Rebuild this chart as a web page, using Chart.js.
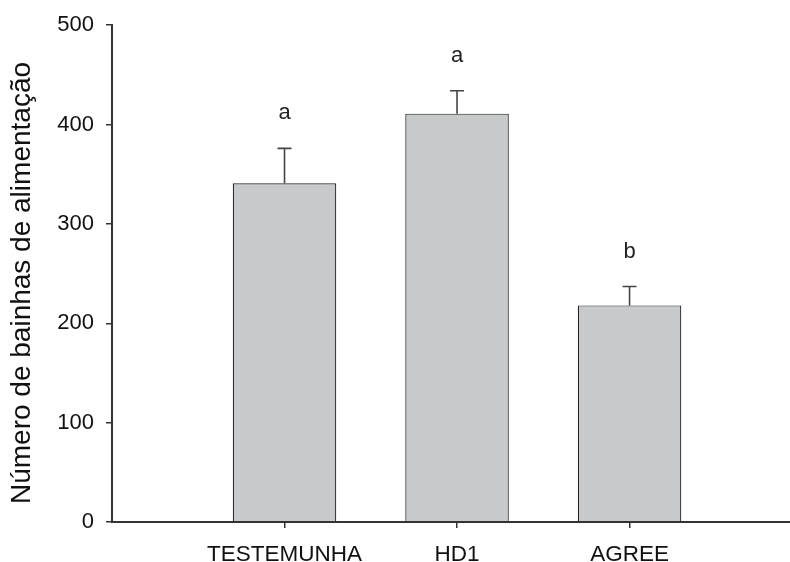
<!DOCTYPE html>
<html>
<head>
<meta charset="utf-8">
<script src="https://cdn.jsdelivr.net/npm/chart.js@4/dist/chart.umd.min.js"></script>
<style>
  html, body { margin: 0; padding: 0; background: #ffffff; }
  #wrap { width: 790px; height: 562px; }
</style>
</head>
<body>
<div id="wrap"><canvas id="c" width="790" height="562"></canvas></div>
<script>
const categories = ['TESTEMUNHA', 'HD1', 'AGREE'];
const positions = [1, 2, 3];
const values = [341, 411, 218];
const errors = [35, 23, 19];
const letters = ['a', 'a', 'b'];
const yTicks = [0, 100, 200, 300, 400, 500];
const yTitle = 'Número de bainhas de alimentação';

const FONT = "'Liberation Sans', Arial, Helvetica, sans-serif";

const errorPlugin = {
  id: 'errorBars',
  afterDatasetsDraw(chart) {
    const ctx = chart.ctx;
    const xs = chart.scales.x, ys = chart.scales.y;
    ctx.save();
    ctx.strokeStyle = '#444444';
    ctx.lineWidth = 1.6;
    ctx.fillStyle = '#222222';
    ctx.font = '22px ' + FONT;
    ctx.textAlign = 'center';
    ctx.textBaseline = 'alphabetic';
    for (let i = 0; i < values.length; i++) {
      const x = xs.getPixelForValue(positions[i]);
      const y0 = ys.getPixelForValue(values[i]);
      const y1 = ys.getPixelForValue(values[i] + errors[i]);
      ctx.beginPath();
      ctx.moveTo(x, y0);
      ctx.lineTo(x, y1);
      ctx.moveTo(x - 7, y1);
      ctx.lineTo(x + 7, y1);
      ctx.stroke();
      ctx.fillText(letters[i], x, y1 - 29);
    }
    ctx.restore();
  }
};

const yTitlePlugin = {
  id: 'yTitle',
  afterDraw(chart) {
    const ctx = chart.ctx;
    ctx.save();
    ctx.translate(22, 283);
    ctx.rotate(-Math.PI / 2);
    ctx.font = '28px ' + FONT;
    ctx.fillStyle = '#111111';
    ctx.textAlign = 'center';
    ctx.textBaseline = 'middle';
    ctx.fillText(yTitle, 0, 0);
    ctx.restore();
  }
};

new Chart(document.getElementById('c'), {
  type: 'bar',
  data: {
    datasets: [{
      data: positions.map((p, i) => ({ x: p, y: values[i] })),
      backgroundColor: '#c8c9cb',
      borderColor: '#222222',
      borderWidth: 1.2,
      borderSkipped: 'bottom',
      barPercentage: 0.6,
      categoryPercentage: 1.0
    }]
  },
  options: {
    responsive: false,
    animation: false,
    layout: { padding: { top: 25, right: 0, left: 0, bottom: 0 } },
    plugins: { legend: { display: false }, tooltip: { enabled: false } },
    scales: {
      x: {
        type: 'linear',
        offset: false,
        min: 0,
        max: 3.93,
        afterBuildTicks: s => { s.ticks = positions.map(v => ({ value: v })); },
        afterFit: s => { s.height = 40; },
        ticks: {
          callback: (v) => { const i = positions.indexOf(v); return i >= 0 ? categories[i] : ''; },
          font: { family: FONT, size: 22.5 },
          color: '#111111',
          padding: 13,
          maxRotation: 0,
          autoSkip: false
        },
        grid: { offset: false, drawOnChartArea: false, tickLength: 6, color: '#333333', lineWidth: 1.5 },
        border: { display: true, color: '#333333', width: 2, z: 1 }
      },
      y: {
        min: 0,
        max: 500,
        afterBuildTicks: s => { s.ticks = yTicks.map(v => ({ value: v })); },
        afterFit: s => { s.width = 112; },
        ticks: {
          font: { family: FONT, size: 22 },
          color: '#111111',
          padding: 12
        },
        grid: { drawOnChartArea: false, tickLength: 6, color: '#333333', lineWidth: 1.5 },
        border: { display: true, color: '#333333', width: 2 }
      }
    }
  },
  plugins: [errorPlugin, yTitlePlugin]
});
</script>
</body>
</html>
